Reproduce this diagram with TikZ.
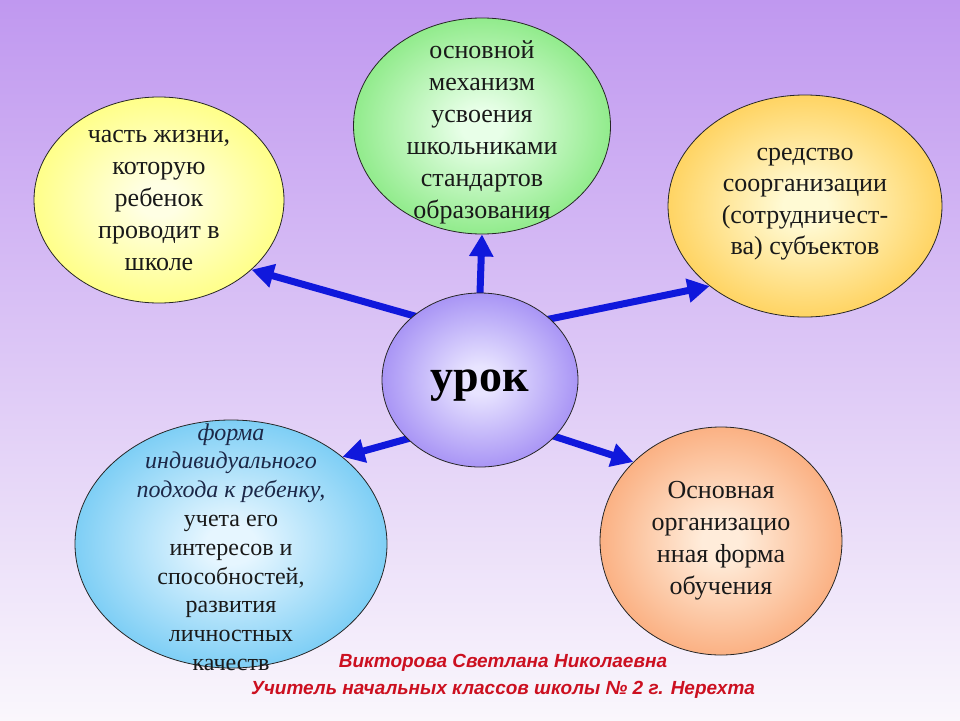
\documentclass[tikz,border=0pt]{standalone}
\usepackage{fontspec}
\setmainfont{Liberation Serif}
\setsansfont{Liberation Sans}
\usetikzlibrary{arrows.meta,shapes.geometric}

\definecolor{bgtop}{RGB}{192,152,240}
\definecolor{bgbot}{RGB}{250,247,252}
\definecolor{arrowblue}{RGB}{16,24,220}
\definecolor{signred}{RGB}{204,16,32}
\definecolor{inkblue}{RGB}{28,40,72}

%soft radial fill for the bubbles
\makeatletter
\pgfdeclareradialshading[tikz@radial@inner,tikz@radial@outer]{soft}{\pgfpoint{0bp}{0bp}}{color(0bp)=(tikz@radial@inner);color(4bp)=(tikz@radial@inner);color(36bp)=(tikz@radial@outer);color(50bp)=(tikz@radial@outer)}
\makeatother

\pgfdeclarelayer{back}
\pgfsetlayers{back,main}

\begin{document}
\begin{tikzpicture}[x=1pt,y=-1pt,
  bubble/.style={ellipse,draw=black!85,line width=0.8pt,inner sep=0pt},
  link/.style={-{Triangle[length=22pt,width=23pt]},line width=7pt,draw=arrowblue,shorten <=-6pt},
  words/.style={align=center,text=black!90,font=\fontsize{26}{32}\selectfont},
  sign/.style={text=signred,font=\sffamily\bfseries\itshape\fontsize{19}{21}\selectfont}]

\useasboundingbox (0,0) rectangle (960,720);

%the bubbles
\node[bubble,minimum width=196pt,minimum height=174pt,inner color={rgb,255:red,232;green,228;blue,255},outer color={rgb,255:red,136;green,108;blue,240},shading=soft] (urok) at (480,380) {};
\node[bubble,minimum width=250pt,minimum height=206pt,inner color={rgb,255:red,255;green,255;blue,228},outer color={rgb,255:red,255;green,255;blue,90},shading=soft] (life) at (159,200) {};
\node[bubble,minimum width=257pt,minimum height=216pt,inner color={rgb,255:red,232;green,255;blue,232},outer color={rgb,255:red,100;green,225;blue,92},shading=soft] (mech) at (482,126) {};
\node[bubble,minimum width=274pt,minimum height=222pt,inner color={rgb,255:red,255;green,250;blue,212},outer color={rgb,255:red,255;green,192;blue,40},shading=soft] (coorg) at (805,206) {};
\node[bubble,minimum width=312pt,minimum height=248pt,inner color={rgb,255:red,230;green,246;blue,255},outer color={rgb,255:red,72;green,186;blue,240},shading=soft] (indiv) at (231,544) {};
\node[bubble,minimum width=242pt,minimum height=228pt,inner color={rgb,255:red,255;green,236;blue,218},outer color={rgb,255:red,248;green,146;blue,86},shading=soft] (form) at (721,541) {};

%texts
\node[words,font=\bfseries\fontsize{46}{50}\selectfont,text=black] (urokt) at ([yshift=-6pt]urok) {урок};
\node[words] (lifet) at (life) {часть жизни,\\которую\\ребенок\\проводит в\\школе};
\node[words] (mecht) at ([yshift=-6pt]mech) {основной\\механизм\\усвоения\\школьниками\\стандартов\\образования};
\node[words,font=\fontsize{26}{31.5}\selectfont] (coorgt) at ([yshift=2pt]coorg) {средство\\соорганизации\\(сотрудничест-\\ва) субъектов};
\node[words,font=\fontsize{24}{28.8}\selectfont] (indivt) at ([yshift=-3pt]indiv) {\textcolor{inkblue}{\textit{форма}}\\\textcolor{inkblue}{\textit{индивидуального}}\\\textcolor{inkblue}{\textit{подхода к ребенку,}}\\учета его\\интересов и\\способностей,\\развития\\личностных\\качеств};
\node[words] (formt) at (form) {Основная\\организацио\\нная форма\\обучения};

\node[sign] (author) at (503,663) {Викторова Светлана Николаевна};
\node[sign] (school) at (503,690) {Учитель начальных классов школы №~2 г. Нерехта};

\begin{pgfonlayer}{back}
\fill[top color=bgtop,bottom color=bgbot] (0,0) rectangle (960,720);
%arrows out of the centre
\draw[link] (urok.136) -- (life.-37);
\draw[link] (urok.90)  -- (mech.-90);
\draw[link] (urok.41)  -- (coorg.220);
\draw[link] (urok.219) -- (indiv.38);
\draw[link] (urok.323) -- (form.138);
\end{pgfonlayer}

\end{tikzpicture}
\end{document}
